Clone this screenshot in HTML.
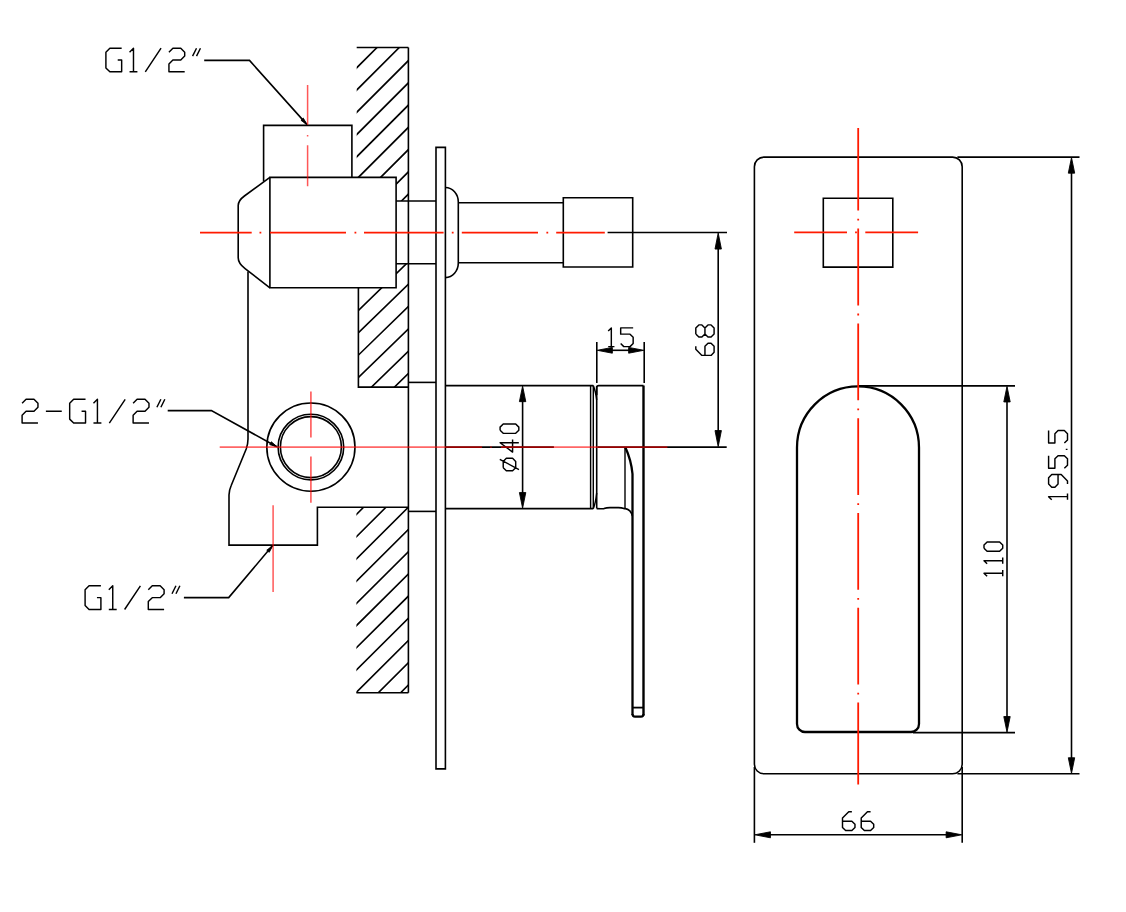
<!DOCTYPE html>
<html><head><meta charset="utf-8"><title>Drawing</title>
<style>
html,body{margin:0;padding:0;background:#fff;}
body{width:1126px;height:912px;overflow:hidden;font-family:"Liberation Sans",sans-serif;}
svg{display:block;}
</style></head>
<body>
<svg width="1126" height="912" viewBox="0 0 1126 912">
<rect width="1126" height="912" fill="#fff"/>
<g stroke-linecap="butt" stroke-linejoin="miter">
<clipPath id="hu"><path d="M356.7,47.5H408.4V201H396.1V177.4H356.7Z"/></clipPath>
<path clip-path="url(#hu)" d="M350,52.25L415,-12.75M350,74.5L415,9.5M350,96.75L415,31.75M350,119L415,54M350,141.25L415,76.25M350,163.5L415,98.5M350,185.75L415,120.75M350,208L415,143M350,230.25L415,165.25M350,252.5L415,187.5M350,274.75L415,209.75" stroke="#000" stroke-width="1.6" fill="none"/>
<clipPath id="hm"><path d="M396.1,263.8H408.4V387.1H358.4V287.8H396.1Z"/></clipPath>
<path clip-path="url(#hm)" d="M350,273.87L415,210.69M350,296.22L415,233.04M350,318.57L415,255.39M350,340.92L415,277.74M350,363.27L415,300.09M350,385.62L415,322.44M350,407.97L415,344.79M350,430.32L415,367.14M350,452.67L415,389.49" stroke="#000" stroke-width="1.6" fill="none"/>
<clipPath id="hl"><path d="M356.4,507.3H408.4V692.8H356.4Z"/></clipPath>
<path clip-path="url(#hl)" d="M350,520.77L415,456.09M350,543.01L415,478.33M350,565.25L415,500.57M350,587.49L415,522.81M350,609.73L415,545.05M350,631.97L415,567.29M350,654.21L415,589.53M350,676.45L415,611.77M350,698.69L415,634.01M350,720.93L415,656.25M350,743.17L415,678.49" stroke="#000" stroke-width="1.6" fill="none"/>
<line x1="356.7" y1="47.5" x2="408.4" y2="47.5" stroke="#000" stroke-width="1.6"/>
<line x1="408.4" y1="47.5" x2="408.4" y2="692.8" stroke="#000" stroke-width="1.6"/>
<path d="M358.4,287.8V387.1H408.4" stroke="#000" stroke-width="1.6" fill="none"/>
<line x1="356.4" y1="692.8" x2="408.4" y2="692.8" stroke="#000" stroke-width="1.6"/>
<path d="M263.6,181.6V125.4H351.9V177.4" stroke="#000" stroke-width="1.6" fill="none"/>
<path d="M269.9,177.4H396.1V287.8H269.9Z" stroke="#000" stroke-width="1.6" fill="none"/>
<path d="M269.9,177.4L244.4,196Q238.2,200.5 238.2,205.6V257.7Q238.2,263.3 245.1,268.6L269.9,287.8" stroke="#000" stroke-width="1.6" fill="none"/>
<line x1="396.1" y1="201" x2="436" y2="201" stroke="#000" stroke-width="1.6"/>
<line x1="396.1" y1="263.8" x2="436" y2="263.8" stroke="#000" stroke-width="1.6"/>
<path d="M248,271.4V439Q248,444 246.2,449L231.2,485.5Q229,490.5 229,495V545.1H317.4V507.3H408.4" stroke="#000" stroke-width="1.6" fill="none"/>
<line x1="408.4" y1="382.4" x2="436" y2="382.4" stroke="#000" stroke-width="1.6"/>
<line x1="408.4" y1="511.4" x2="436" y2="511.4" stroke="#000" stroke-width="1.6"/>
<circle cx="310.9" cy="447.1" r="44.1" stroke="#000" stroke-width="1.6" fill="none"/>
<circle cx="310.9" cy="447.1" r="32.8" stroke="#000" stroke-width="1.6" fill="none"/>
<circle cx="310.9" cy="447.1" r="30.5" stroke="#000" stroke-width="1.6" fill="none"/>
<path d="M436,147.4H445.4V768.9H436Z" stroke="#000" stroke-width="1.6" fill="none"/>
<path d="M445.4,187.5A13,14.5 0 0 1 458.3,202V263A13,14.5 0 0 1 445.4,277.6" stroke="#000" stroke-width="1.6" fill="none"/>
<line x1="458.3" y1="202.7" x2="563.3" y2="202.7" stroke="#000" stroke-width="1.6"/>
<line x1="458.3" y1="262.8" x2="563.3" y2="262.8" stroke="#000" stroke-width="1.6"/>
<path d="M563.3,197.8H632.7V267H563.3Z" stroke="#000" stroke-width="1.6" fill="none"/>
<line x1="445.4" y1="385.6" x2="593.3" y2="385.6" stroke="#000" stroke-width="1.6"/>
<line x1="445.4" y1="508.6" x2="593.3" y2="508.6" stroke="#000" stroke-width="1.6"/>
<line x1="590.6" y1="385.6" x2="590.6" y2="508.6" stroke="#000" stroke-width="1.45"/>
<line x1="593.3" y1="385.6" x2="593.3" y2="508.6" stroke="#000" stroke-width="1.45"/>
<path d="M593.3,385.6Q595.6,391 596.7,400" stroke="#000" stroke-width="1.45" fill="none"/>
<path d="M593.3,508.6Q595.6,503 596.7,493" stroke="#000" stroke-width="1.45" fill="none"/>
<path d="M596.7,395V387.6Q596.7,385.6 598.7,385.6H643.5" stroke="#000" stroke-width="1.6" fill="none"/>
<line x1="596.7" y1="386" x2="596.7" y2="508.5" stroke="#000" stroke-width="1.6"/>
<path d="M596.7,508.6Q601,508.8 604,508.6Q606.5,507.6 610,507.6H618.5Q621.5,507.6 624,508.6H625.3Q630.8,509.5 632.4,516" stroke="#000" stroke-width="1.6" fill="none"/>
<line x1="643.5" y1="385.6" x2="643.5" y2="715.5" stroke="#000" stroke-width="2.4"/>
<path d="M625,447.5V508.6" stroke="#000" stroke-width="1.4" fill="none"/>
<path d="M625.4,447.5Q631.2,460 632.5,474V715" stroke="#000" stroke-width="2.3" fill="none"/>
<path d="M632.5,714Q632.5,716.6 635,716.6H641Q643.5,716.6 643.5,714" stroke="#000" stroke-width="2.2" fill="none"/>
<line x1="632.5" y1="707.6" x2="643.5" y2="707.6" stroke="#000" stroke-width="1.8"/>
<line x1="607.6" y1="232.5" x2="727" y2="232.5" stroke="#000" stroke-width="1.6"/>
<line x1="597.5" y1="447.1" x2="726.7" y2="447.1" stroke="#000" stroke-width="1.6"/>
<line x1="445.4" y1="447.1" x2="553.9" y2="447.1" stroke="#000" stroke-width="1.6"/>
<line x1="718.2" y1="240" x2="718.2" y2="440" stroke="#000" stroke-width="1.6"/>
<polygon points="718.2,232.95 721.4,249.05 715,249.05" fill="#000" stroke="#000" stroke-width="0.9" stroke-linejoin="round"/>
<polygon points="718.2,446.65 715,430.55 721.4,430.55" fill="#000" stroke="#000" stroke-width="0.9" stroke-linejoin="round"/>
<line x1="596.8" y1="342" x2="596.8" y2="383" stroke="#000" stroke-width="1.6"/>
<line x1="644.2" y1="342" x2="644.2" y2="383" stroke="#000" stroke-width="1.6"/>
<line x1="605" y1="350.3" x2="636" y2="350.3" stroke="#000" stroke-width="1.6"/>
<polygon points="597.25,350.3 612.35,347.4 612.35,353.2" fill="#000" stroke="#000" stroke-width="0.9" stroke-linejoin="round"/>
<polygon points="643.75,350.3 628.65,353.2 628.65,347.4" fill="#000" stroke="#000" stroke-width="0.9" stroke-linejoin="round"/>
<line x1="522.6" y1="395" x2="522.6" y2="500" stroke="#000" stroke-width="1.6"/>
<polygon points="522.6,386.05 525.8,401.65 519.4,401.65" fill="#000" stroke="#000" stroke-width="0.9" stroke-linejoin="round"/>
<polygon points="522.6,508.15 519.4,492.55 525.8,492.55" fill="#000" stroke="#000" stroke-width="0.9" stroke-linejoin="round"/>
<path d="M204.2,60.4H249.5L306.8,124.4" stroke="#000" stroke-width="1.6" fill="none"/>
<polygon points="307.2,124.86 300.94,120.27 303.32,118.13" fill="#000" stroke="#000" stroke-width="0.9" stroke-linejoin="round"/>
<path d="M167.7,410.6H211.4L276.8,446.7" stroke="#000" stroke-width="1.6" fill="none"/>
<polygon points="277.21,446.88 269.78,444.61 271.32,441.81" fill="#000" stroke="#000" stroke-width="0.9" stroke-linejoin="round"/>
<path d="M183.9,597.6H228.7L272.6,545.6" stroke="#000" stroke-width="1.6" fill="none"/>
<polygon points="272.91,545.44 269.22,552.28 266.77,550.21" fill="#000" stroke="#000" stroke-width="0.9" stroke-linejoin="round"/>
<path transform="translate(105.9,48.2)" d="M15.76,0L3.94,0L0,3.94L0,19.7L3.94,23.64L15.76,23.64L15.76,11.82L11.82,11.82 M23.64,3.94L27.58,0L27.58,23.64 M23.64,23.64L31.52,23.64 M39.4,23.64L55.16,0 M63.04,3.94L66.98,0L74.86,0L78.8,3.94L78.8,7.88L74.86,11.82L66.98,11.82L63.04,15.76L63.04,23.64L78.8,23.64 M86.68,7.88L90.62,0 M90.62,7.88L94.56,0" stroke="#000" stroke-width="1.45" fill="none" stroke-linejoin="round" stroke-linecap="butt"/>
<path transform="translate(22.1,399.3)" d="M0,3.96L3.96,0L11.89,0L15.86,3.96L15.86,7.93L11.89,11.89L3.96,11.89L0,15.86L0,23.79L15.86,23.79 M23.79,11.89L39.65,11.89 M63.44,0L51.55,0L47.58,3.96L47.58,19.82L51.55,23.79L63.44,23.79L63.44,11.89L59.47,11.89 M71.37,3.96L75.33,0L75.33,23.79 M71.37,23.79L79.3,23.79 M87.23,23.79L103.09,0 M111.02,3.96L114.98,0L122.91,0L126.88,3.96L126.88,7.93L122.91,11.89L114.98,11.89L111.02,15.86L111.02,23.79L126.88,23.79 M134.81,7.93L138.78,0 M138.78,7.93L142.74,0" stroke="#000" stroke-width="1.45" fill="none" stroke-linejoin="round" stroke-linecap="butt"/>
<path transform="translate(85.1,585.8)" d="M15.8,0L3.95,0L0,3.95L0,19.75L3.95,23.7L15.8,23.7L15.8,11.85L11.85,11.85 M23.7,3.95L27.65,0L27.65,23.7 M23.7,23.7L31.6,23.7 M39.5,23.7L55.3,0 M63.2,3.95L67.15,0L75.05,0L79,3.95L79,7.9L75.05,11.85L67.15,11.85L63.2,15.8L63.2,23.7L79,23.7 M86.9,7.9L90.85,0 M90.85,7.9L94.8,0" stroke="#000" stroke-width="1.45" fill="none" stroke-linejoin="round" stroke-linecap="butt"/>
<path transform="translate(608.2,327.9)" d="M0,3.12L3.12,0L3.12,18.72 M0,18.72L6.24,18.72 M24.96,0L12.48,0L12.48,6.24L21.84,6.24L24.96,9.36L24.96,15.6L21.84,18.72L15.6,18.72L12.48,15.6" stroke="#000" stroke-width="1.45" fill="none" stroke-linejoin="round" stroke-linecap="butt"/>
<path transform="translate(695.8,355.4) rotate(-90)" d="M9.15,0L6.1,0L0,6.1L0,15.25L3.05,18.3L9.15,18.3L12.2,15.25L12.2,12.2L9.15,9.15L0,9.15 M21.35,0L27.45,0L30.5,3.05L30.5,6.1L27.45,9.15L21.35,9.15L18.3,6.1L18.3,3.05L21.35,0 M21.35,9.15L27.45,9.15L30.5,12.2L30.5,15.25L27.45,18.3L21.35,18.3L18.3,15.25L18.3,12.2L21.35,9.15" stroke="#000" stroke-width="1.45" fill="none" stroke-linejoin="round" stroke-linecap="butt"/>
<path transform="translate(500.1,470.8) rotate(-90)" d="M3.12,3.12L9.36,3.12L12.48,6.24L12.48,12.48L9.36,15.6L3.12,15.6L0,12.48L0,6.24L3.12,3.12 M11.39,-0.31L1.25,18.88 M28.08,18.72L28.08,0L18.72,12.48L31.2,12.48 M40.56,0L43.68,0L46.8,3.12L46.8,15.6L43.68,18.72L40.56,18.72L37.44,15.6L37.44,3.12L40.56,0" stroke="#000" stroke-width="1.45" fill="none" stroke-linejoin="round" stroke-linecap="butt"/>
<path d="M764,157.1H952.6A9.6,9.6 0 0 1 962.2,166.7V764.2A9.6,9.6 0 0 1 952.6,773.8H764A9.6,9.6 0 0 1 754.4,764.2V166.7A9.6,9.6 0 0 1 764,157.1Z" stroke="#000" stroke-width="1.6" fill="none"/>
<path d="M823.3,198.2H892.8V267.1H823.3Z" stroke="#000" stroke-width="1.6" fill="none"/>
<path d="M797,447.6A61,61.2 0 0 1 919,447.6V724A8,8 0 0 1 911,732H805A8,8 0 0 1 797,724Z" stroke="#000" stroke-width="2.3" fill="none"/>
<line x1="957.4" y1="157.1" x2="1079.5" y2="157.1" stroke="#000" stroke-width="1.6"/>
<line x1="957.4" y1="773.8" x2="1079.5" y2="773.8" stroke="#000" stroke-width="1.6"/>
<line x1="858.2" y1="385.9" x2="1015" y2="385.9" stroke="#000" stroke-width="1.6"/>
<line x1="913" y1="732.6" x2="1015" y2="732.6" stroke="#000" stroke-width="1.6"/>
<line x1="754.4" y1="767" x2="754.4" y2="842.8" stroke="#000" stroke-width="1.6"/>
<line x1="962.2" y1="767" x2="962.2" y2="842.8" stroke="#000" stroke-width="1.6"/>
<line x1="1071.5" y1="165" x2="1071.5" y2="765" stroke="#000" stroke-width="1.6"/>
<polygon points="1071.5,157.55 1074.7,173.15 1068.3,173.15" fill="#000" stroke="#000" stroke-width="0.9" stroke-linejoin="round"/>
<polygon points="1071.5,773.35 1068.3,757.75 1074.7,757.75" fill="#000" stroke="#000" stroke-width="0.9" stroke-linejoin="round"/>
<line x1="1007" y1="395" x2="1007" y2="722" stroke="#000" stroke-width="1.6"/>
<polygon points="1007,386.35 1010.2,401.95 1003.8,401.95" fill="#000" stroke="#000" stroke-width="0.9" stroke-linejoin="round"/>
<polygon points="1007,732.15 1003.8,716.55 1010.2,716.55" fill="#000" stroke="#000" stroke-width="0.9" stroke-linejoin="round"/>
<line x1="765" y1="834.8" x2="952" y2="834.8" stroke="#000" stroke-width="1.6"/>
<polygon points="754.85,834.8 770.45,831.8 770.45,837.8" fill="#000" stroke="#000" stroke-width="0.9" stroke-linejoin="round"/>
<polygon points="961.75,834.8 946.15,837.8 946.15,831.8" fill="#000" stroke="#000" stroke-width="0.9" stroke-linejoin="round"/>
<path transform="translate(984,576.3) rotate(-90)" d="M0,3.12L3.12,0L3.12,18.72 M0,18.72L6.24,18.72 M12.48,3.12L15.6,0L15.6,18.72 M12.48,18.72L18.72,18.72 M28.08,0L31.2,0L34.32,3.12L34.32,15.6L31.2,18.72L28.08,18.72L24.96,15.6L24.96,3.12L28.08,0" stroke="#000" stroke-width="1.45" fill="none" stroke-linejoin="round" stroke-linecap="butt"/>
<path transform="translate(1048.6,499.8) rotate(-90)" d="M0,3.15L3.15,0L3.15,18.9 M0,18.9L6.3,18.9 M15.75,18.9L18.9,18.9L25.2,12.6L25.2,3.15L22.05,0L15.75,0L12.6,3.15L12.6,6.3L15.75,9.45L25.2,9.45 M44.1,0L31.5,0L31.5,6.3L40.95,6.3L44.1,9.45L44.1,15.75L40.95,18.9L34.65,18.9L31.5,15.75 M50.4,17.17L50.4,18.9 M69.3,0L56.7,0L56.7,6.3L66.15,6.3L69.3,9.45L69.3,15.75L66.15,18.9L59.85,18.9L56.7,15.75" stroke="#000" stroke-width="1.45" fill="none" stroke-linejoin="round" stroke-linecap="butt"/>
<path transform="translate(842.5,811.8)" d="M9.36,0L6.24,0L0,6.24L0,15.6L3.12,18.72L9.36,18.72L12.48,15.6L12.48,12.48L9.36,9.36L0,9.36 M28.08,0L24.96,0L18.72,6.24L18.72,15.6L21.84,18.72L28.08,18.72L31.2,15.6L31.2,12.48L28.08,9.36L18.72,9.36" stroke="#000" stroke-width="1.45" fill="none" stroke-linejoin="round" stroke-linecap="butt"/>
<path d="M200,232.6H251.7M259.5,232.6H261.3M270,232.6H346M354.5,232.6H356.3M364,232.6H443.6M451.8,232.6H453.6M461.8,232.6H538M546.4,232.6H548.2M556.2,232.6H604.8" stroke="#ff1a00" stroke-width="1.8" fill="none"/>
<path d="M858.2,128V210.6M858.2,218.8V220.6M858.2,228.6V305.4M858.2,313.6V315.4M858.2,323.4V400.2M858.2,408.4V410.2M858.2,418.2V495M858.2,503.2V505M858.2,513V589.8M858.2,598V599.8M858.2,607.8V684.6M858.2,692.8V694.6M858.2,702.6V784.6" stroke="#ff1a00" stroke-width="1.8" fill="none"/>
<path d="M794.2,232.3H847M855.1,232.3H856.9M865.3,232.3H918.1" stroke="#ff1a00" stroke-width="1.8" fill="none"/>
<path d="M307.6,85.1V124.8M307.6,135.1V136.5M307.6,145.2V186.3" stroke="#ff0000" stroke-width="1.5" fill="none" stroke-opacity="0.66"/>
<path d="M310.9,391.4V437.6M310.9,456.6V502.7" stroke="#ff0000" stroke-width="1.6" fill="none" stroke-opacity="0.66"/>
<path d="M273.1,505.3V592.1" stroke="#ff0000" stroke-width="1.5" fill="none" stroke-opacity="0.66"/>
<path d="M219.7,447.1H482.1M490.3,447.1H491.7M501,447.1H667.4" stroke="#ff0000" stroke-width="1.75" fill="none" stroke-opacity="0.6"/>
</g>
</svg>
</body></html>
